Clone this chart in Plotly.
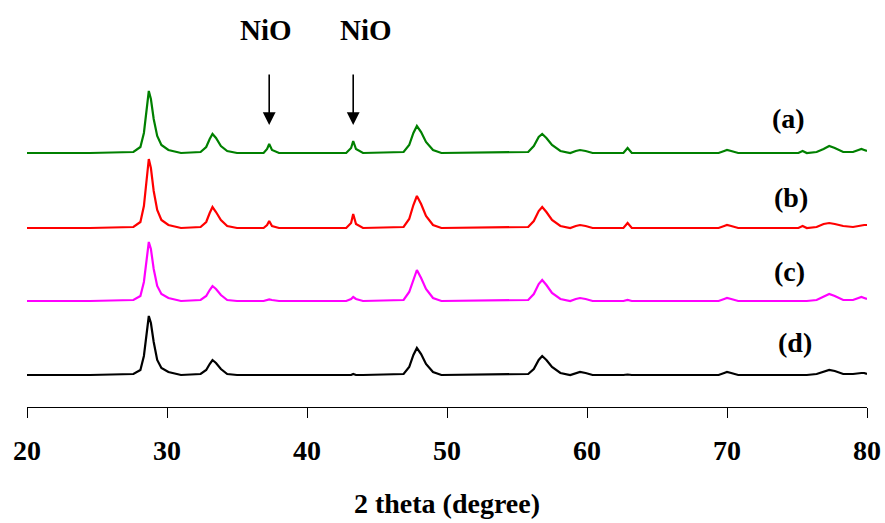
import plotly.graph_objects as go

# shared 2-theta grid (degrees)
two_theta = [20.0, 24.5, 27.6, 28.1, 28.35, 28.55, 28.7, 28.85, 29.05, 29.3, 29.6, 30.1, 31.0,
             32.4, 32.8, 33.05, 33.25, 33.5, 33.85, 34.3, 35.0,
             36.9, 37.15, 37.3, 37.5, 38.0,
             42.8, 43.15, 43.3, 43.5, 44.0,
             46.9, 47.3, 47.6, 47.85, 48.15, 48.5, 49.0, 49.6,
             55.8, 56.2, 56.55, 56.8, 57.1, 57.5, 58.1, 58.8, 59.2, 59.5, 59.9, 60.4,
             62.6, 62.9, 63.2,
             69.4, 69.8, 70.0, 70.3, 70.8,
             75.1, 75.4, 75.7, 76.4, 76.9, 77.3, 77.7, 78.3, 79.0, 79.4, 79.6, 79.8, 80.0]

int_a = [0, 0, 1, 6, 20, 45, 62, 54, 34, 17, 8, 3, 0,
         1, 6, 14, 19, 15, 7, 2, 0,
         0, 4, 9, 3, 0,
         0, 5, 12, 4, 0,
         1, 8, 20, 27, 21, 11, 3, 0,
         1, 7, 16, 19, 15, 8, 2, 0, 2, 3, 2, 0,
         0, 5, 0,
         0, 2, 3, 2, 0,
         0, 2, 0, 1, 4, 7, 5, 1, 1, 3, 4, 3, 2]

int_b = [0, 0, 1, 6, 22, 50, 69, 60, 37, 18, 8, 3, 0,
         1, 6, 15, 21, 16, 8, 2, 0,
         0, 3, 7, 2, 0,
         0, 5, 14, 4, 0,
         1, 9, 23, 32, 24, 12, 3, 0,
         1, 7, 17, 21, 16, 8, 2, 0, 2, 3, 2, 0,
         0, 5, 0,
         0, 2, 3, 2, 0,
         0, 2, 0, 1, 4, 5, 4, 2, 1, 2, 3, 3, 3]

int_c = [0, 0, 1, 5, 19, 43, 59, 52, 32, 15, 7, 3, 0,
         1, 5, 11, 15, 12, 6, 1, 0,
         0, 1, 1.5, 1, 0,
         0, 2, 4, 2, 0,
         1, 9, 22, 31, 23, 12, 3, 0,
         1, 7, 17, 21, 16, 8, 2, 0, 2, 3, 2, 0,
         0, 1, 0,
         0, 2, 3, 2, 0,
         0, 0, 0, 1, 4, 7, 5, 1, 1, 3, 4, 3, 2]

int_d = [0, 0, 1, 5, 19, 43, 59, 52, 33, 15, 7, 3, 0,
         1, 5, 11, 15, 12, 6, 1, 0,
         0, 0, 0, 0, 0,
         0, 0, 1, 0, 0,
         1, 8, 20, 27, 21, 11, 3, 0,
         1, 6, 15, 19, 15, 8, 2, 0, 2, 3, 2, 0,
         0, 0.5, 0,
         0, 2, 3, 2, 0,
         0, 0, 0, 1, 3, 5, 4, 1, 1, 2, 2, 2, 1]

series_labels = ["(a)", "(b)", "(c)", "(d)"]
series_values = [int_a, int_b, int_c, int_d]
offsets = [254, 179, 106, 32]
colors = ["#008000", "#FF0000", "#FF00FF", "#000000"]
label_pos = [(74.36, 289), (74.57, 210), (74.43, 136), (74.86, 65)]

nio_peaks = [37.3, 43.3]
nio_text_x = [37.1, 44.2]
x_ticks = [20, 30, 40, 50, 60, 70, 80]

FONT = "Liberation Serif"

fig = go.Figure()
for vals, off, col in zip(series_values, offsets, colors):
    fig.add_trace(go.Scatter(x=two_theta, y=[v + off for v in vals], mode="lines",
                             line=dict(color=col, width=2.2), showlegend=False))

for lab, (lx, ly) in zip(series_labels, label_pos):
    fig.add_annotation(x=lx, y=ly, text="<b>%s</b>" % lab, showarrow=False,
                       font=dict(family=FONT, size=28, color="black"))

for px, tx in zip(nio_peaks, nio_text_x):
    fig.add_annotation(x=px, y=282, ax=0, ay=-52, text="", showarrow=True,
                       arrowhead=2, arrowsize=1.6, arrowwidth=1.6, arrowcolor="black")
    fig.add_annotation(x=tx, y=377, text="<b>NiO</b>", showarrow=False,
                       font=dict(family=FONT, size=29, color="black"))

fig.update_layout(
    width=885, height=523,
    margin=dict(l=27, r=18, t=0, b=116),
    paper_bgcolor="white", plot_bgcolor="white",
    xaxis=dict(range=[20, 80], tickvals=x_ticks, ticktext=[str(t) for t in x_ticks],
               showline=True, linecolor="black", linewidth=1,
               ticks="outside", ticklen=10, tickcolor="black", tickwidth=1,
               showgrid=False, zeroline=False, ticklabelstandoff=8,
               tickfont=dict(family=FONT, size=28, color="black", weight="bold"),
               title=dict(text="2 theta (degree)",
                          font=dict(family=FONT, size=28, color="black", weight="bold"),
                          standoff=28)),
    yaxis=dict(range=[0, 407], visible=False, showgrid=False, zeroline=False),
)

fig.write_html("out.html")
